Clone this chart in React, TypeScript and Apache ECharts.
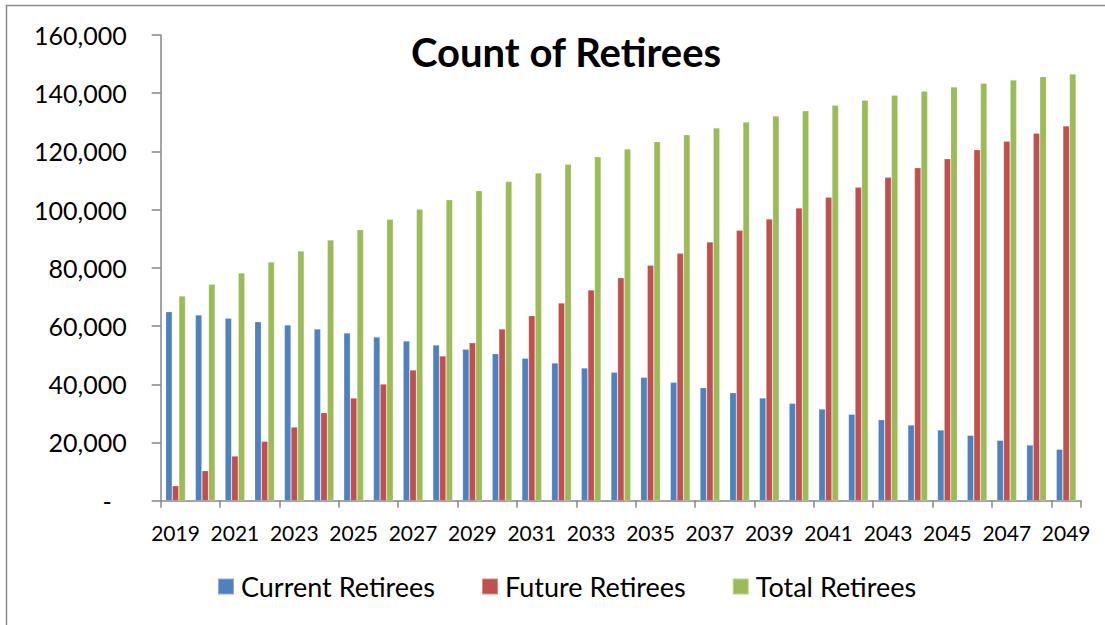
import React, { useEffect, useRef } from "react";
import * as echarts from "echarts";

const years = [
  "2019", "2020", "2021", "2022", "2023", "2024", "2025", "2026", "2027", "2028",
  "2029", "2030", "2031", "2032", "2033", "2034", "2035", "2036", "2037", "2038",
  "2039", "2040", "2041", "2042", "2043", "2044", "2045", "2046", "2047", "2048", "2049",
];

const currentRetirees = [
  64940, 63800, 62670, 61500, 60370, 59000, 57620, 56250, 54870, 53500,
  52020, 50510, 48930, 47310, 45600, 44120, 42400, 40680, 38830, 37110,
  35290, 33470, 31510, 29690, 27830, 26010, 24290, 22470, 20750, 19140, 17660,
];

const futureRetirees = [
  5150, 10310, 15360, 20410, 25320, 30240, 35290, 40100, 44910, 49720,
  54290, 59000, 63570, 67930, 72400, 76620, 80880, 85010, 88890, 92910,
  96790, 100570, 104250, 107680, 111120, 114420, 117510, 120600, 123490, 126240, 128750,
];

const totalRetirees = [
  70330, 74350, 78240, 82020, 85800, 89580, 93110, 96690, 100120, 103390,
  106520, 109700, 112600, 115590, 118200, 120840, 123350, 125760, 128060, 130120,
  132180, 134000, 135860, 137580, 139300, 140670, 142150, 143420, 144550, 145690, 146610,
];

const seriesNames = ["Current Retirees", "Future Retirees", "Total Retirees"];
const seriesColors = ["#4F81BD", "#C0504D", "#9BBB59"];

const chartTitle = "Count of Retirees";

export default function App() {
  const ref = useRef<HTMLDivElement>(null);

  useEffect(() => {
    if (!ref.current) return;
    const chart = echarts.init(ref.current, null, { renderer: "svg" });
    const axisColor = "#868686";
    const dataSets = [currentRetirees, futureRetirees, totalRetirees];
    chart.setOption({
      animation: false,
      backgroundColor: "#ffffff",
      color: seriesColors,
      title: {
        text: chartTitle,
        left: 561,
        textAlign: "center",
        top: 27,
        textStyle: {
          fontFamily: "Lato",
          fontWeight: "bold",
          fontSize: 40,
          color: "#000000",
        },
      },
      graphic: [
        {
          type: "rect",
          shape: { x: 6.5, y: 5.5, width: 1200, height: 700 },
          style: { fill: "none", stroke: "#8a8a8a", lineWidth: 1.5 },
          silent: true,
        },
      ],
      legend: {
        left: 217,
        top: 573,
        padding: 0,
        itemWidth: 16,
        itemHeight: 16,
        itemGap: 46,
        icon: "rect",
        textStyle: {
          fontFamily: "Lato",
          fontSize: 27,
          color: "#000000",
          padding: [0, 0, 0, 2],
        },
        data: seriesNames,
      },
      grid: {
        left: 160.7,
        right: 24,
        top: 35,
        bottom: 124.3,
        containLabel: false,
      },
      xAxis: {
        type: "category",
        data: years,
        boundaryGap: true,
        axisLine: { show: true, lineStyle: { color: axisColor, width: 1.5 } },
        axisTick: {
          show: true,
          interval: 1,
          length: 7,
          lineStyle: { color: axisColor, width: 1.5 },
        },
        axisLabel: {
          interval: 1,
          margin: 21,
          fontFamily: "Liberation Sans Narrow, Lato",
          fontSize: 21,
          color: "#000000",
        },
        splitLine: { show: false },
      },
      yAxis: {
        type: "value",
        min: 0,
        max: 160000,
        interval: 20000,
        axisLine: { show: true, lineStyle: { color: axisColor, width: 1.5 } },
        axisTick: {
          show: true,
          length: 9,
          lineStyle: { color: axisColor, width: 1.5 },
        },
        splitLine: { show: false },
        axisLabel: {
          margin: 34,
          fontFamily: "Lato",
          fontSize: 25,
          color: "#000000",
          formatter: (v: number) =>
            v === 0 ? "{d|-}" : v.toLocaleString("en-US"),
          rich: {
            d: { fontFamily: "Lato", fontSize: 25, color: "#000000", padding: [0, 15, 0, 0] },
          },
        },
      },
      series: seriesNames.map((name, i) => ({
        name,
        type: "bar",
        data: dataSets[i],
        barWidth: 6.6,
        barGap: "0%",
        itemStyle: {
          color: seriesColors[i],
          borderColor: "rgba(255,255,255,0.35)",
          borderWidth: 0.6,
        },
      })),
    });
    return () => chart.dispose();
  }, []);

  return (
    <div
      ref={ref}
      style={{ position: "fixed", left: 0, top: 0, width: 1105, height: 625 }}
    />
  );
}
